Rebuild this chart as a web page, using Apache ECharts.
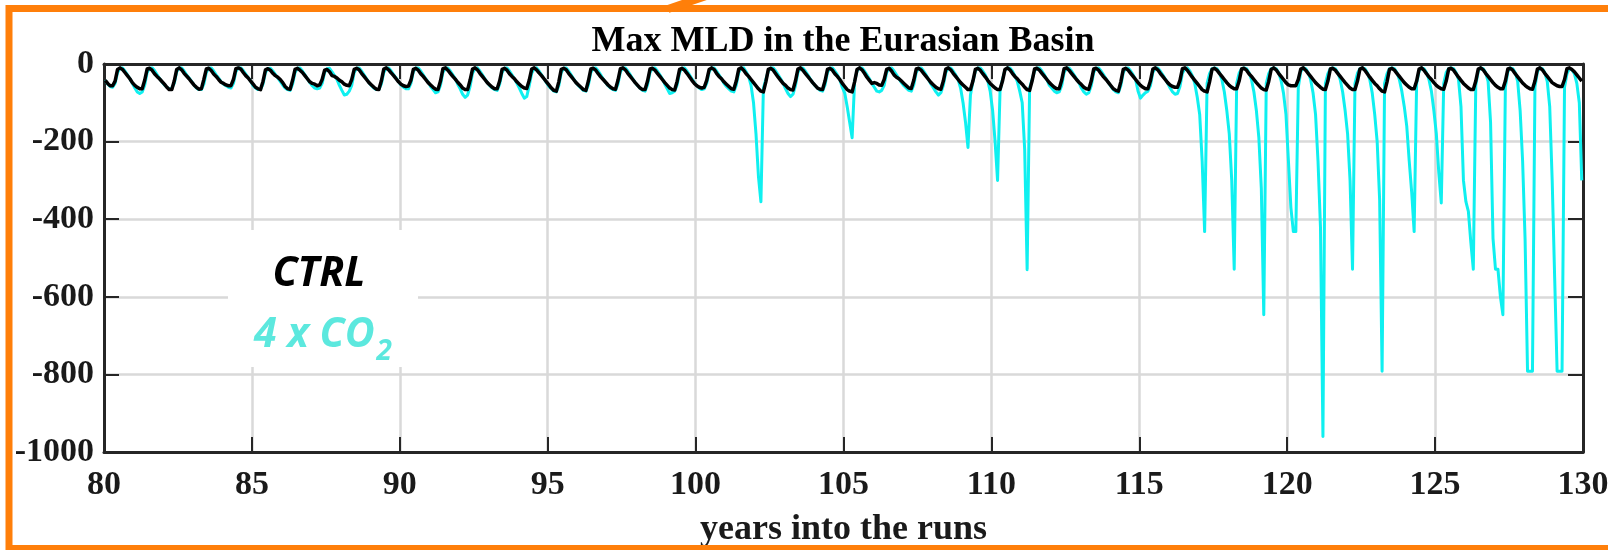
<!DOCTYPE html>
<html>
<head>
<meta charset="utf-8">
<script src="https://cdn.jsdelivr.net/npm/echarts@6/dist/echarts.min.js"></script>
<style>
html,body{margin:0;padding:0;background:#fff;}
#chart{width:1608px;height:550px;}
</style>
</head>
<body>
<div id="chart"></div>
<script>
// first model year; monthly values, 12 per year (years 80..129)
const startYear = 80;
const xTicks = [80, 85, 90, 95, 100, 105, 110, 115, 120, 125, 130];
const yTicks = [0, -200, -400, -600, -800, -1000];

const ctrl = [
 -42,-50,-56,-56,-44,-14,-10,-14,-22,-30,-38,-48,
 -55,-60,-64,-64,-42,-13,-11,-16,-25,-32,-38,-45,
 -52,-60,-66,-66,-44,-14,-10,-15,-24,-31,-38,-46,
 -54,-60,-65,-64,-40,-13,-11,-17,-26,-32,-40,-47,
 -50,-54,-56,-56,-40,-12,-10,-13,-22,-30,-36,-44,
 -52,-60,-64,-66,-45,-15,-12,-16,-24,-30,-34,-40,
 -48,-58,-64,-65,-42,-14,-11,-16,-22,-30,-38,-46,
 -50,-52,-56,-54,-40,-16,-14,-20,-30,-32,-36,-42,
 -46,-52,-55,-56,-40,-14,-11,-15,-24,-32,-40,-48,
 -54,-60,-65,-66,-44,-13,-10,-15,-23,-30,-38,-46,
 -52,-56,-58,-57,-42,-14,-11,-16,-25,-32,-40,-48,
 -54,-60,-65,-66,-44,-12,-10,-16,-24,-32,-39,-47,
 -54,-62,-66,-66,-42,-13,-10,-15,-24,-32,-40,-48,
 -54,-60,-64,-64,-44,-14,-11,-16,-25,-32,-38,-46,
 -52,-58,-62,-63,-42,-13,-10,-15,-23,-30,-38,-46,
 -54,-62,-68,-70,-46,-14,-11,-15,-24,-32,-40,-48,
 -54,-60,-66,-68,-44,-13,-11,-16,-25,-33,-40,-47,
 -54,-60,-64,-65,-42,-12,-10,-15,-24,-32,-40,-48,
 -55,-62,-66,-66,-44,-13,-11,-16,-24,-32,-40,-48,
 -55,-62,-66,-67,-45,-14,-11,-16,-24,-33,-42,-50,
 -56,-60,-62,-60,-42,-14,-10,-14,-24,-32,-38,-46,
 -52,-58,-64,-65,-44,-13,-10,-16,-25,-32,-40,-48,
 -56,-64,-70,-72,-46,-14,-11,-16,-25,-34,-42,-50,
 -55,-62,-66,-67,-44,-13,-10,-16,-24,-32,-40,-48,
 -55,-62,-65,-66,-44,-14,-11,-16,-25,-32,-40,-50,
 -58,-66,-70,-72,-46,-14,-10,-15,-24,-34,-42,-50,
 -48,-50,-54,-55,-40,-14,-11,-18,-28,-34,-38,-44,
 -50,-56,-62,-63,-42,-13,-11,-16,-24,-32,-40,-48,
 -54,-60,-64,-65,-44,-13,-10,-15,-24,-32,-40,-48,
 -54,-60,-66,-66,-44,-14,-11,-16,-25,-33,-42,-50,
 -56,-62,-66,-66,-44,-14,-10,-15,-24,-32,-38,-46,
 -52,-60,-66,-68,-44,-13,-11,-16,-24,-32,-40,-48,
 -54,-60,-64,-64,-42,-12,-10,-16,-24,-32,-40,-47,
 -53,-60,-64,-65,-44,-13,-11,-16,-25,-33,-40,-48,
 -56,-64,-68,-70,-46,-14,-11,-16,-24,-32,-40,-48,
 -55,-60,-64,-64,-44,-13,-10,-15,-24,-32,-40,-48,
 -54,-58,-60,-60,-42,-12,-10,-16,-25,-34,-42,-50,
 -58,-66,-70,-72,-46,-14,-11,-16,-24,-32,-40,-48,
 -55,-60,-64,-64,-44,-13,-11,-16,-25,-32,-40,-48,
 -55,-62,-66,-67,-45,-14,-10,-15,-24,-32,-40,-48,
 -54,-56,-56,-56,-40,-13,-10,-16,-24,-32,-40,-48,
 -54,-60,-65,-66,-44,-13,-11,-16,-24,-32,-40,-48,
 -55,-62,-66,-66,-44,-13,-10,-16,-25,-34,-42,-50,
 -56,-64,-70,-72,-46,-14,-11,-16,-24,-32,-40,-48,
 -54,-60,-64,-64,-44,-13,-10,-16,-25,-33,-40,-48,
 -55,-60,-64,-65,-44,-13,-11,-16,-25,-34,-42,-50,
 -56,-62,-66,-66,-44,-13,-10,-15,-24,-32,-40,-48,
 -55,-60,-64,-64,-44,-13,-11,-16,-25,-33,-41,-49,
 -55,-60,-64,-65,-44,-13,-10,-15,-24,-32,-40,-48,
 -52,-56,-58,-58,-40,-12,-10,-14,-20,-28,-36,-44
];

const co2x4 = [
 -42,-52,-58,-60,-50,-22,-11,-10,-18,-28,-38,-50,
 -62,-72,-76,-72,-55,-22,-11,-10,-17,-27,-37,-46,
 -54,-60,-64,-62,-50,-20,-10,-10,-18,-28,-36,-45,
 -54,-62,-66,-66,-52,-22,-11,-10,-18,-28,-36,-46,
 -52,-56,-60,-62,-50,-20,-10,-10,-17,-26,-35,-44,
 -56,-62,-66,-66,-52,-22,-12,-11,-18,-27,-36,-45,
 -54,-62,-66,-68,-52,-22,-11,-10,-18,-28,-38,-48,
 -56,-62,-64,-62,-50,-22,-12,-11,-20,-30,-40,-55,
 -68,-80,-78,-70,-55,-22,-11,-10,-18,-28,-38,-48,
 -56,-62,-66,-66,-52,-22,-11,-10,-18,-28,-36,-46,
 -54,-60,-64,-64,-50,-20,-10,-10,-18,-28,-38,-46,
 -58,-66,-74,-72,-55,-22,-11,-10,-18,-28,-38,-52,
 -64,-78,-86,-80,-58,-24,-12,-10,-18,-28,-38,-48,
 -56,-62,-66,-68,-52,-22,-11,-10,-18,-28,-38,-50,
 -62,-76,-88,-84,-56,-24,-12,-10,-18,-28,-38,-48,
 -58,-64,-70,-72,-56,-22,-11,-10,-18,-28,-38,-48,
 -56,-62,-68,-70,-54,-22,-11,-10,-18,-28,-38,-48,
 -56,-62,-66,-68,-52,-20,-10,-10,-18,-28,-38,-48,
 -56,-62,-68,-70,-54,-22,-11,-10,-18,-28,-38,-52,
 -64,-76,-74,-70,-54,-22,-11,-10,-18,-28,-38,-48,
 -56,-62,-66,-64,-50,-20,-10,-10,-18,-28,-38,-50,
 -58,-64,-70,-72,-55,-22,-11,-10,-20,-32,-55,-100,
 -180,-290,-355,-62,-40,-18,-10,-10,-18,-28,-38,-50,
 -64,-76,-84,-78,-56,-22,-11,-10,-18,-28,-38,-48,
 -56,-62,-68,-70,-54,-22,-11,-10,-18,-28,-40,-60,
 -75,-110,-150,-190,-45,-18,-10,-10,-18,-28,-38,-50,
 -60,-70,-72,-68,-55,-22,-11,-10,-18,-28,-38,-48,
 -56,-62,-68,-70,-54,-22,-11,-10,-18,-28,-40,-52,
 -62,-72,-80,-74,-55,-22,-11,-10,-18,-28,-40,-62,
 -100,-150,-215,-80,-45,-18,-10,-10,-18,-28,-42,-70,
 -120,-200,-300,-70,-40,-16,-10,-10,-18,-30,-45,-70,
 -100,-220,-530,-62,-40,-18,-10,-10,-18,-28,-40,-55,
 -62,-70,-74,-72,-56,-22,-11,-10,-18,-28,-38,-48,
 -62,-72,-78,-74,-56,-22,-11,-10,-18,-28,-38,-48,
 -58,-66,-72,-74,-56,-22,-11,-10,-18,-28,-40,-70,
 -88,-80,-74,-70,-56,-22,-11,-10,-18,-28,-38,-50,
 -62,-72,-78,-76,-58,-24,-12,-10,-18,-30,-50,-85,
 -130,-250,-432,-50,-25,-12,-10,-12,-22,-40,-72,-120,
 -180,-300,-529,-50,-24,-12,-10,-12,-22,-40,-72,-120,
 -190,-320,-646,-50,-25,-12,-10,-12,-22,-42,-75,-130,
 -250,-370,-432,-432,-60,-20,-10,-12,-22,-40,-75,-130,
 -250,-420,-960,-50,-25,-12,-10,-12,-22,-40,-72,-120,
 -180,-300,-529,-50,-24,-12,-10,-12,-22,-40,-75,-130,
 -200,-350,-792,-50,-25,-12,-10,-12,-22,-40,-70,-110,
 -160,-250,-330,-432,-50,-18,-10,-12,-22,-40,-70,-120,
 -180,-280,-358,-50,-22,-12,-10,-12,-22,-40,-110,-300,
 -355,-380,-460,-529,-55,-18,-10,-12,-22,-45,-150,-450,
 -529,-529,-600,-646,-60,-20,-10,-12,-22,-45,-120,-250,
 -450,-792,-792,-792,-60,-20,-10,-12,-22,-45,-110,-300,
 -550,-792,-792,-792,-60,-25,-12,-15,-25,-50,-100,-300
];

const toPoints = arr => arr.map((v, i) => [startYear + (i + 0.5) / 12, v]);

const SERIF = '"Liberation Serif", "Times New Roman", serif';
const AX = '#262626';
const ORANGE = '#ff7f0a';
const chart = echarts.init(document.getElementById('chart'), null, {renderer: 'canvas'});

const baseX = {
  type: 'value', min: xTicks[0], max: xTicks[xTicks.length - 1], interval: 5
};
const baseY = {
  type: 'value', min: yTicks[yTicks.length - 1], max: yTicks[0], interval: 200
};
const tickStyle = {show: true, inside: true, length: 15, lineStyle: {color: AX, width: 2}};
const lineStyleAx = {show: true, onZero: false, lineStyle: {color: AX, width: 3}};
const labelStyle = {fontFamily: SERIF, fontWeight: 'bold', fontSize: 34, color: '#1a1a1a'};

chart.setOption({
  animation: false,
  backgroundColor: '#ffffff',
  grid: {left: 104, right: 25, top: 64, bottom: 98, containLabel: false, outerBoundsMode: 'none'},
  xAxis: [
    Object.assign({}, baseX, {
      position: 'bottom',
      axisLine: lineStyleAx,
      axisTick: tickStyle,
      axisLabel: Object.assign({margin: 16, formatter: v => String(v)}, labelStyle),
      splitLine: {show: true, lineStyle: {color: '#d9d9d9', width: 2.5}},
      name: 'years into the runs',
      nameLocation: 'middle',
      nameGap: 60,
      nameTextStyle: {fontFamily: SERIF, fontWeight: 'bold', fontSize: 36, color: '#1a1a1a'}
    }),
    Object.assign({}, baseX, {
      position: 'top',
      axisLine: lineStyleAx,
      axisTick: tickStyle,
      axisLabel: {show: false},
      splitLine: {show: false}
    })
  ],
  yAxis: [
    Object.assign({}, baseY, {
      position: 'left',
      axisLine: lineStyleAx,
      axisTick: tickStyle,
      axisLabel: Object.assign({margin: 10, formatter: v => String(v)}, labelStyle),
      splitLine: {show: true, lineStyle: {color: '#d9d9d9', width: 2.5}}
    }),
    Object.assign({}, baseY, {
      position: 'right',
      axisLine: lineStyleAx,
      axisTick: tickStyle,
      axisLabel: {show: false},
      splitLine: {show: false}
    })
  ],
  series: [
    {
      name: '4 x CO2', type: 'line', xAxisIndex: 0, yAxisIndex: 0,
      data: toPoints(co2x4), showSymbol: false, symbol: 'none', sampling: null,
      lineStyle: {color: '#0ff0f0', width: 3, join: 'round'}, z: 3, silent: true
    },
    {
      name: 'CTRL', type: 'line', xAxisIndex: 0, yAxisIndex: 0,
      data: toPoints(ctrl), showSymbol: false, symbol: 'none', sampling: null,
      lineStyle: {color: '#000000', width: 3.5, join: 'round'}, z: 4, silent: true
    }
  ],
  graphic: [
    {type: 'text', z: 100, x: 843, y: 42,
     style: {text: 'Max MLD in the Eurasian Basin', font: 'bold 36px ' + SERIF, fill: '#000', align: 'center', verticalAlign: 'middle'}},
    {type: 'rect', z: 90, shape: {x: 228, y: 230, width: 190, height: 137}, style: {fill: '#ffffff'}},
    {type: 'text', z: 100, x: 319, y: 274,
     style: {text: 'CTRL', font: 'italic bold 41px "Open Sans", sans-serif', fill: '#000', align: 'center', verticalAlign: 'middle'}},
    {type: 'text', z: 100, x: 323, y: 335,
     style: {text: '{a|4 x CO}{b|2}', align: 'center', verticalAlign: 'middle',
       rich: {
         a: {fontFamily: 'Open Sans', fontStyle: 'italic', fontWeight: 'bold', fontSize: 41, color: '#5ce8de', fill: '#5ce8de'},
         b: {fontFamily: 'Open Sans', fontStyle: 'italic', fontWeight: 'bold', fontSize: 28, color: '#5ce8de', fill: '#5ce8de', padding: [34, 0, 0, 2]}
       }}},
    // orange frame (right side lies outside the picture)
    {type: 'polyline', z: 110, shape: {points: [[1620, 8.5], [9, 8.5], [9, 548.5], [1620, 548.5]]},
     style: {fill: null, stroke: ORANGE, lineWidth: 7}},
    {type: 'line', z: 110, shape: {x1: 668, y1: 9, x2: 712, y2: -6},
     style: {stroke: ORANGE, lineWidth: 8}}
  ]
});
</script>
</body>
</html>
